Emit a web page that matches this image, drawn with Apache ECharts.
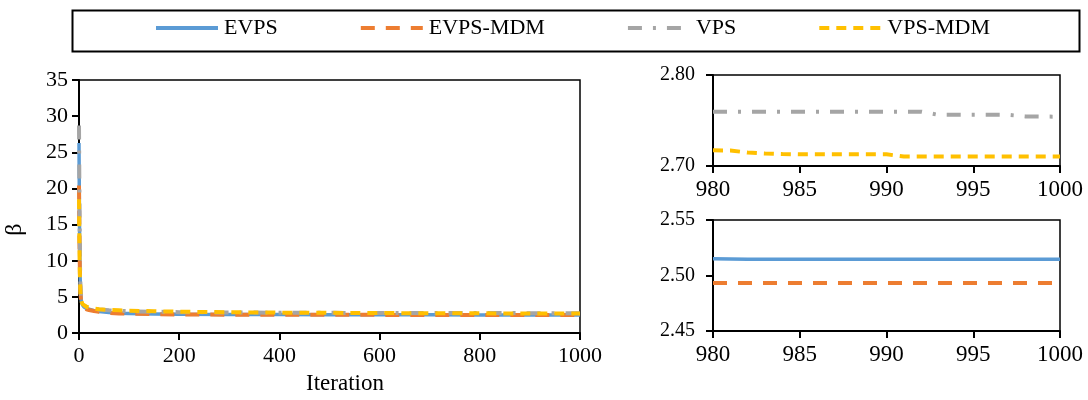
<!DOCTYPE html>
<html><head><meta charset="utf-8">
<script src="https://cdn.jsdelivr.net/npm/echarts@6/dist/echarts.min.js"></script>
<style>html,body{margin:0;padding:0;background:#fff}#c{width:1088px;height:400px}</style>
</head><body><div id="c"></div>
<script>
const seriesNames = ['EVPS', 'EVPS-MDM', 'VPS', 'VPS-MDM'];
const seriesColors = ['#5B9BD5', '#ED7D31', '#A5A5A5', '#FFC000'];

// Full run (left panel)
const iterFull   = [0, 1, 2, 3, 4, 5, 7, 10, 15, 20, 30, 40, 60, 80, 100, 150, 200, 300, 400, 500, 600, 700, 800, 900, 1000];
const evpsFull   = [26.3, 15.0, 8.5, 5.8, 4.8, 4.3, 3.9, 3.6, 3.4, 3.3, 3.1, 3.0, 2.85, 2.75, 2.7, 2.65, 2.6, 2.58, 2.56, 2.55, 2.54, 2.53, 2.52, 2.52, 2.515];
const evpsMdmFull= [20.4, 12.0, 7.5, 5.5, 4.6, 4.2, 3.8, 3.5, 3.3, 3.2, 3.05, 2.95, 2.8, 2.72, 2.68, 2.62, 2.58, 2.55, 2.54, 2.53, 2.52, 2.51, 2.5, 2.5, 2.493];
const vpsFull    = [28.7, 17.0, 9.5, 6.2, 5.1, 4.6, 4.1, 3.8, 3.6, 3.5, 3.35, 3.25, 3.15, 3.08, 3.02, 2.95, 2.9, 2.85, 2.82, 2.8, 2.79, 2.78, 2.77, 2.76, 2.756];
const vpsMdmFull = [18.5, 11.0, 7.2, 5.4, 4.7, 4.4, 4.0, 3.8, 3.65, 3.55, 3.4, 3.3, 3.2, 3.15, 3.1, 3.02, 2.96, 2.88, 2.83, 2.8, 2.77, 2.75, 2.73, 2.72, 2.71];

// Last 21 iterations (right panels)
const iterZoom   = [980, 981, 982, 983, 984, 985, 986, 987, 988, 989, 990, 991, 992, 993, 994, 995, 996, 997, 998, 999, 1000];
const evpsZoom   = [2.5150, 2.5148, 2.5146, 2.5146, 2.5146, 2.5146, 2.5146, 2.5146, 2.5146, 2.5146, 2.5146, 2.5146, 2.5146, 2.5146, 2.5146, 2.5146, 2.5146, 2.5146, 2.5146, 2.5146, 2.5146];
const evpsMdmZoom= [2.4932, 2.4932, 2.4932, 2.4932, 2.4932, 2.4932, 2.4932, 2.4932, 2.4932, 2.4932, 2.4932, 2.4932, 2.4932, 2.4932, 2.4932, 2.4932, 2.4932, 2.4932, 2.4932, 2.4932, 2.4932];
const vpsZoom    = [2.7597, 2.7597, 2.7597, 2.7597, 2.7597, 2.7597, 2.7597, 2.7597, 2.7597, 2.7597, 2.7597, 2.7597, 2.7597, 2.7562, 2.7562, 2.7562, 2.7562, 2.7562, 2.7545, 2.7543, 2.7542];
const vpsMdmZoom = [2.7172, 2.7170, 2.7148, 2.7138, 2.7132, 2.7128, 2.7128, 2.7128, 2.7128, 2.7128, 2.7128, 2.7105, 2.7105, 2.7105, 2.7105, 2.7105, 2.7105, 2.7105, 2.7105, 2.7105, 2.7105];

const FONT = 'Liberation Serif';
const pairs = (xs, ys) => xs.map((x, i) => [x, ys[i]]);
const lineStyles = [
  { width: 3.5, type: 'solid' },
  { width: 4, type: [14, 11] },
  { width: 4, type: [14, 11, 3, 11] },
  { width: 4, type: [10, 7] }
];

function xAx(gi, min, max, interval, fs, extra) {
  return Object.assign({
    type: 'value', gridIndex: gi, min: min, max: max, interval: interval,
    axisLine: { show: true, onZero: false, lineStyle: { color: '#000', width: 2 } },
    axisTick: { show: true, inside: false, length: 7, lineStyle: { color: '#000', width: 2 } },
    axisLabel: { color: '#000', fontFamily: FONT, fontSize: fs, margin: 12, formatter: v => String(Math.round(v)) },
    splitLine: { show: false }
  }, extra || {});
}
function yAx(gi, min, max, interval, fs, dec, margin, extra) {
  return Object.assign({
    type: 'value', gridIndex: gi, min: min, max: max, interval: interval,
    axisLine: { show: true, onZero: false, lineStyle: { color: '#000', width: 2 } },
    axisTick: { show: true, inside: false, length: 7, lineStyle: { color: '#000', width: 2 } },
    axisLabel: { color: '#000', fontFamily: FONT, fontSize: fs, margin: margin,
      formatter: v => dec ? v.toFixed(dec) : String(Math.round(v)) },
    splitLine: { show: false }
  }, extra || {});
}

const series = [];
const fullData = [evpsFull, evpsMdmFull, vpsFull, vpsMdmFull];
seriesNames.forEach((n, i) => {
  series.push({
    name: n, type: 'line', xAxisIndex: 0, yAxisIndex: 0, symbol: 'none', showSymbol: false,
    data: pairs(iterFull, fullData[i]), color: seriesColors[i],
    lineStyle: Object.assign({ color: seriesColors[i] }, lineStyles[i])
  });
});
const zoomSets = [
  { idx: 2, gi: 1, data: vpsZoom },
  { idx: 3, gi: 1, data: vpsMdmZoom },
  { idx: 0, gi: 2, data: evpsZoom },
  { idx: 1, gi: 2, data: evpsMdmZoom }
];
zoomSets.forEach(z => {
  series.push({
    name: seriesNames[z.idx], type: 'line', xAxisIndex: z.gi, yAxisIndex: z.gi, symbol: 'none', showSymbol: false,
    data: pairs(iterZoom, z.data), color: seriesColors[z.idx],
    lineStyle: Object.assign({ color: seriesColors[z.idx] }, lineStyles[z.idx])
  });
});

const chart = echarts.init(document.getElementById('c'), null, { renderer: 'canvas' });
chart.setOption({
  animation: false,
  backgroundColor: '#fff',
  textStyle: { fontFamily: FONT },
  graphic: [{
    type: 'rect', left: 70, top: 8, z: -1,
    shape: { width: 1007, height: 41 },
    style: { fill: 'none', stroke: '#000', lineWidth: 2 }
  }],
  legend: {
    data: seriesNames.map((n, i) => ({
      name: n,
      itemStyle: { opacity: 0 },
      lineStyle: Object.assign({ color: seriesColors[i] }, lineStyles[i], { width: 4 })
    })),
    left: 154, top: 17, padding: 0,
    itemWidth: 62, itemHeight: 12, itemGap: 81,
    textStyle: { color: '#000', fontFamily: FONT, fontSize: 22, padding: [0, 0, 0, 1] }
  },
  grid: [
    { left: 79, right: 508, top: 80, bottom: 58, show: true, borderColor: '#000', borderWidth: 1.5, containLabel: false },
    { left: 713, right: 28, top: 75, height: 91, show: true, borderColor: '#000', borderWidth: 1.5, containLabel: false },
    { left: 713, right: 28, top: 220, height: 111, show: true, borderColor: '#000', borderWidth: 1.5, containLabel: false }
  ],
  xAxis: [
    xAx(0, 0, 1000, 200, 22, {
      name: 'Iteration', nameLocation: 'middle', nameGap: 35,
      nameTextStyle: { color: '#000', fontFamily: FONT, fontSize: 23, padding: [0, 0, 0, 31] }
    }),
    xAx(1, 980, 1000, 5, 23),
    xAx(2, 980, 1000, 5, 23)
  ],
  yAxis: [
    yAx(0, 0, 35, 5, 22, 0, 11, {
      name: 'β', nameLocation: 'middle', nameGap: 52,
      nameTextStyle: { color: '#000', fontFamily: FONT, fontSize: 24, padding: [0, 46, 0, 0] }
    }),
    yAx(1, 2.7, 2.8, 0.1, 20, 2, 18),
    yAx(2, 2.45, 2.55, 0.05, 20, 2, 18)
  ],
  series: series
});
</script>
</body></html>
